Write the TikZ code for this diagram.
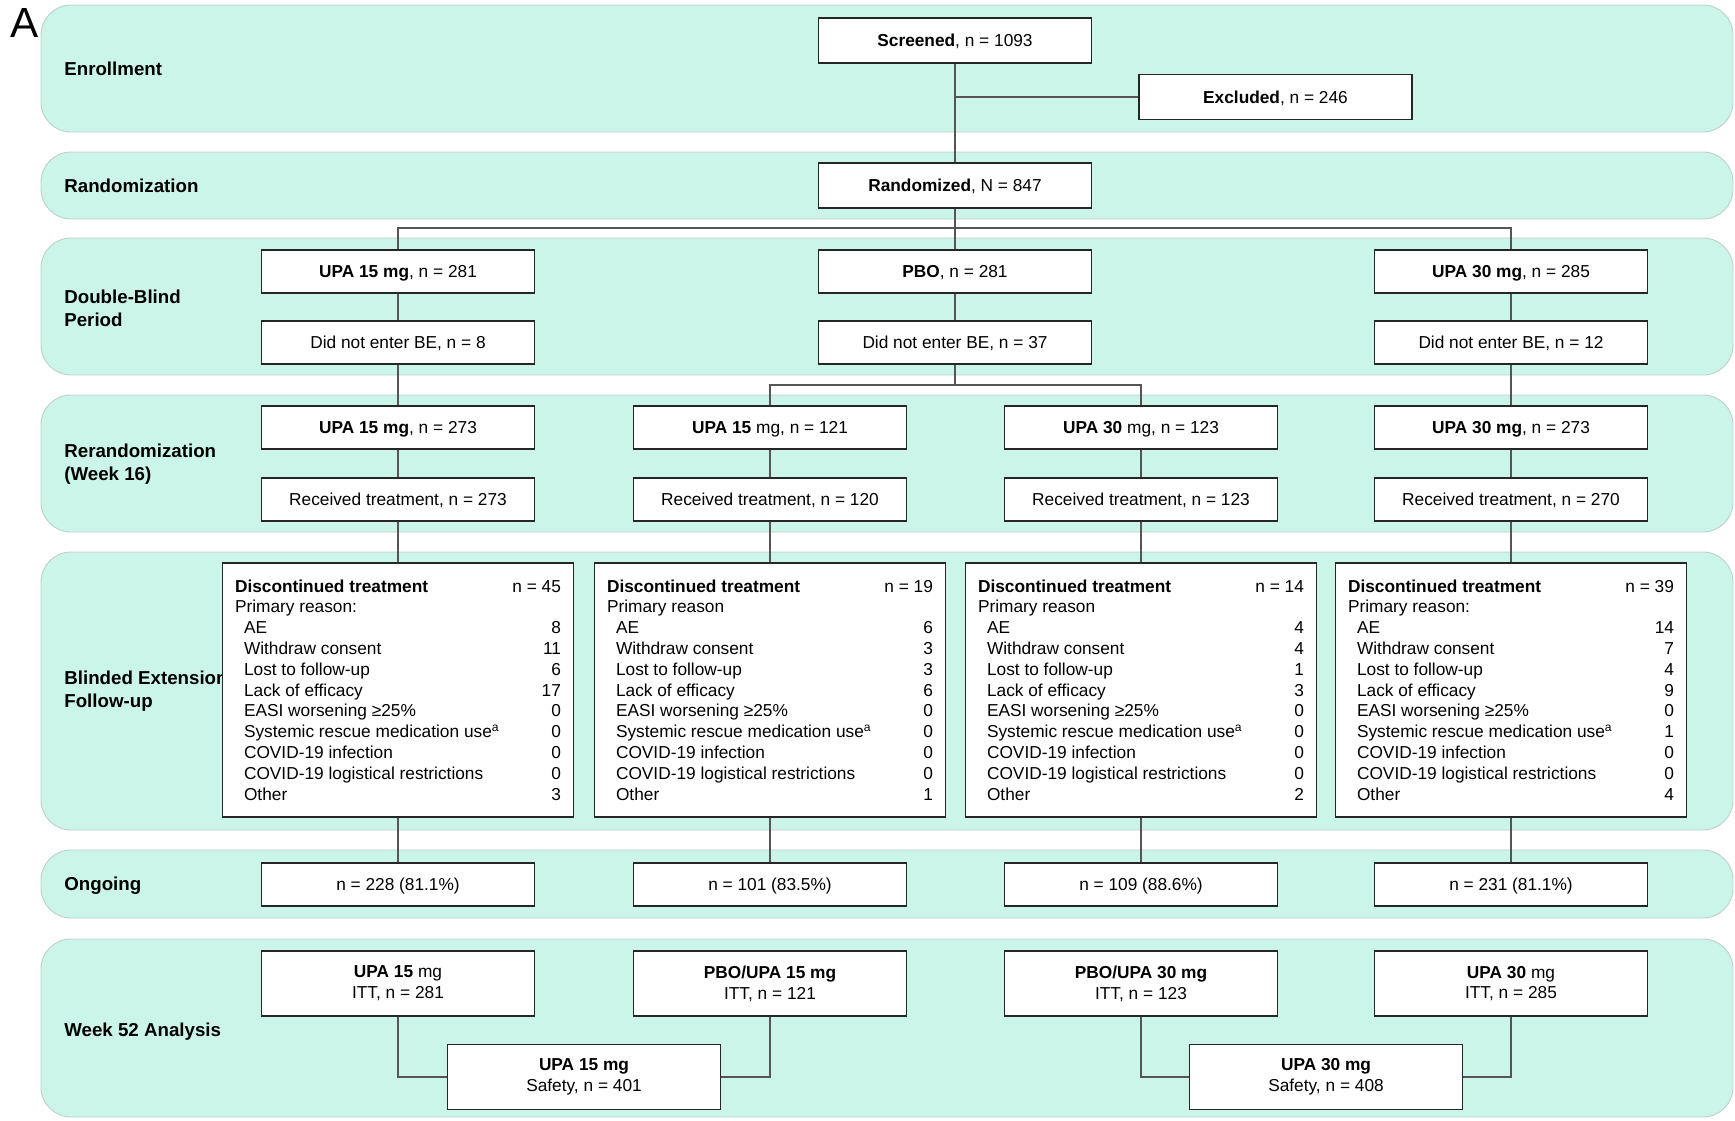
\documentclass[tikz,border=0pt]{standalone}
\usepackage{fontspec}
\setmainfont{Liberation Sans}
\definecolor{bandfill}{RGB}{204,245,233}
\definecolor{bandline}{RGB}{188,208,203}
\definecolor{linkgray}{RGB}{85,85,85}
\newcommand{\cellfont}{\fontsize{9.84}{11.85}\selectfont}
\newcommand{\phasefont}{\fontsize{10.65}{12.9}\selectfont\bfseries}
\newcommand{\rsn}{\hspace*{0.18cm}}
\tikzset{
  band/.style={draw=bandline, fill=bandfill, line width=0.5pt, rounded corners=0.6cm},
  phase/.style={anchor=west, align=left, inner sep=0pt, font=\phasefont},
  framed/.style={draw=black!85, fill=white, line width=0.9pt, inner sep=0pt, minimum width=5.46cm, minimum height=0.86cm, font=\cellfont},
  box/.style={framed, text height=0.72em, text depth=0pt},
  ittbox/.style={framed, minimum height=1.3cm, align=center},
  discbox/.style={framed, minimum width=7.02cm, minimum height=5.08cm},
  link/.style={draw=linkgray, line width=0.6pt},
}
\begin{document}
\begin{tikzpicture}[x=0.02cm, y=-0.02cm]
  \useasboundingbox (0,0) rectangle (1735,1120);

  % Background bands
  \draw[band] (41,5) rectangle (1733,132);
  \draw[band] (41,152) rectangle (1733,219);
  \draw[band] (41,238) rectangle (1733,375);
  \draw[band] (41,395) rectangle (1733,532);
  \draw[band] (41,552) rectangle (1733,830);
  \draw[band] (41,850) rectangle (1733,918);
  \draw[band] (41,939) rectangle (1733,1117);

  % Phase labels
  \node[anchor=base west, inner sep=0pt, font=\fontsize{24}{24}\selectfont] (panel) at (10,37) {A};
  \node[phase] (enroll) at (64,69) {Enrollment};
  \node[phase] (random) at (64,186) {Randomization};
  \node[phase] (dblind) at (64,308) {Double-Blind\\Period};
  \node[phase] (rerand) at (64,464) {Rerandomization\\(Week 16)};
  \node[phase] (blinded) at (64,691) {Blinded Extension\\Follow-up};
  \node[phase] (ongoing) at (64,886) {Ongoing};
  \node[phase] (week52) at (64,1032) {Week 52 Analysis};

  % Define nodes
  \node[box, minimum height=0.9cm] (scr) at (955,40.5) {\textbf{Screened}, n = 1093};
  \node[box, minimum height=0.9cm] (exc) at (1275.5,97) {\textbf{Excluded}, n = 246};
  \node[box, minimum height=0.9cm] (rnd) at (955,185.5) {\textbf{Randomized}, N = 847};

  \node[box] (db15) at (398,271.5) {\textbf{UPA 15 mg}, n = 281};
  \node[box] (dbpbo) at (955,271.5) {\textbf{PBO}, n = 281};
  \node[box] (db30) at (1511,271.5) {\textbf{UPA 30 mg}, n = 285};
  \node[box] (nb15) at (398,342.5) {Did not enter BE, n = 8};
  \node[box] (nbpbo) at (955,342.5) {Did not enter BE, n = 37};
  \node[box] (nb30) at (1511,342.5) {Did not enter BE, n = 12};

  \node[box] (rr15) at (398,427.5) {\textbf{UPA 15 mg}, n = 273};
  \node[box] (rrp15) at (770,427.5) {\textbf{UPA 15} mg, n = 121};
  \node[box] (rrp30) at (1141,427.5) {\textbf{UPA 30} mg, n = 123};
  \node[box] (rr30) at (1511,427.5) {\textbf{UPA 30 mg}, n = 273};
  \node[box] (rt15) at (398,499.5) {Received treatment, n = 273};
  \node[box] (rtp15) at (770,499.5) {Received treatment, n = 120};
  \node[box] (rtp30) at (1141,499.5) {Received treatment, n = 123};
  \node[box] (rt30) at (1511,499.5) {Received treatment, n = 270};

  \node[discbox] (dc15) at (398,690) {\raisebox{-1.1pt}[\height][\depth]{\begin{tabular*}{6.52cm}{@{}l@{\extracolsep{\fill}}r@{}}
    \textbf{Discontinued treatment} & n = 45\\
    Primary reason: & \\
    \rsn AE & 8\\
    \rsn Withdraw consent & 11\\
    \rsn Lost to follow-up & 6\\
    \rsn Lack of efficacy & 17\\
    \rsn EASI worsening ≥25\% & 0\\
    \rsn Systemic rescue medication use\textsuperscript{a} & 0\\
    \rsn COVID-19 infection & 0\\
    \rsn COVID-19 logistical restrictions & 0\\
    \rsn Other & 3
  \end{tabular*}}};
  \node[discbox] (dcp15) at (770,690) {\raisebox{-1.1pt}[\height][\depth]{\begin{tabular*}{6.52cm}{@{}l@{\extracolsep{\fill}}r@{}}
    \textbf{Discontinued treatment} & n = 19\\
    Primary reason & \\
    \rsn AE & 6\\
    \rsn Withdraw consent & 3\\
    \rsn Lost to follow-up & 3\\
    \rsn Lack of efficacy & 6\\
    \rsn EASI worsening ≥25\% & 0\\
    \rsn Systemic rescue medication use\textsuperscript{a} & 0\\
    \rsn COVID-19 infection & 0\\
    \rsn COVID-19 logistical restrictions & 0\\
    \rsn Other & 1
  \end{tabular*}}};
  \node[discbox] (dcp30) at (1141,690) {\raisebox{-1.1pt}[\height][\depth]{\begin{tabular*}{6.52cm}{@{}l@{\extracolsep{\fill}}r@{}}
    \textbf{Discontinued treatment} & n = 14\\
    Primary reason & \\
    \rsn AE & 4\\
    \rsn Withdraw consent & 4\\
    \rsn Lost to follow-up & 1\\
    \rsn Lack of efficacy & 3\\
    \rsn EASI worsening ≥25\% & 0\\
    \rsn Systemic rescue medication use\textsuperscript{a} & 0\\
    \rsn COVID-19 infection & 0\\
    \rsn COVID-19 logistical restrictions & 0\\
    \rsn Other & 2
  \end{tabular*}}};
  \node[discbox] (dc30) at (1511,690) {\raisebox{-1.1pt}[\height][\depth]{\begin{tabular*}{6.52cm}{@{}l@{\extracolsep{\fill}}r@{}}
    \textbf{Discontinued treatment} & n = 39\\
    Primary reason: & \\
    \rsn AE & 14\\
    \rsn Withdraw consent & 7\\
    \rsn Lost to follow-up & 4\\
    \rsn Lack of efficacy & 9\\
    \rsn EASI worsening ≥25\% & 0\\
    \rsn Systemic rescue medication use\textsuperscript{a} & 1\\
    \rsn COVID-19 infection & 0\\
    \rsn COVID-19 logistical restrictions & 0\\
    \rsn Other & 4
  \end{tabular*}}};

  \node[box] (og15) at (398,884.5) {n = 228 (81.1\%)};
  \node[box] (ogp15) at (770,884.5) {n = 101 (83.5\%)};
  \node[box] (ogp30) at (1141,884.5) {n = 109 (88.6\%)};
  \node[box] (og30) at (1511,884.5) {n = 231 (81.1\%)};

  \node[ittbox] (itt15) at (398,983.5) {\textbf{UPA 15} mg\\ITT, n = 281};
  \node[ittbox] (ittp15) at (770,983.5) {\textbf{PBO/UPA 15 mg}\\ITT, n = 121};
  \node[ittbox] (ittp30) at (1141,983.5) {\textbf{PBO/UPA 30 mg}\\ITT, n = 123};
  \node[ittbox] (itt30) at (1511,983.5) {\textbf{UPA 30} mg\\ITT, n = 285};
  \node[ittbox] (sf15) at (584,1077) {\textbf{UPA 15 mg}\\Safety, n = 401};
  \node[ittbox] (sf30) at (1326,1077) {\textbf{UPA 30 mg}\\Safety, n = 408};

  \coordinate (rsplit) at (955,228);
  \coordinate (psplit) at (955,385);

  % Draw edges
  \draw[link] (scr) -- (rnd);
  \draw[link] (exc) -- (scr |- exc);
  \draw[link] (rnd) -- (dbpbo);
  \draw[link] (db15) |- (rsplit) -| (db30);
  \draw[link] (db15) -- (nb15);
  \draw[link] (dbpbo) -- (nbpbo);
  \draw[link] (db30) -- (nb30);
  \draw[link] (nb15) -- (rr15);
  \draw[link] (nb30) -- (rr30);
  \draw[link] (nbpbo) -- (psplit);
  \draw[link] (rrp15) |- (psplit) -| (rrp30);

  \draw[link] (rr15) -- (rt15);
  \draw[link] (rrp15) -- (rtp15);
  \draw[link] (rrp30) -- (rtp30);
  \draw[link] (rr30) -- (rt30);
  \draw[link] (rt15) -- (dc15);
  \draw[link] (rtp15) -- (dcp15);
  \draw[link] (rtp30) -- (dcp30);
  \draw[link] (rt30) -- (dc30);
  \draw[link] (dc15) -- (og15);
  \draw[link] (dcp15) -- (ogp15);
  \draw[link] (dcp30) -- (ogp30);
  \draw[link] (dc30) -- (og30);

  \draw[link] (itt15) |- (sf15);
  \draw[link] (ittp15) |- (sf15);
  \draw[link] (ittp30) |- (sf30);
  \draw[link] (itt30) |- (sf30);
\end{tikzpicture}
\end{document}
